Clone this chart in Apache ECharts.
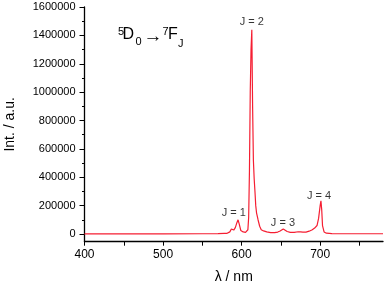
<!DOCTYPE html>
<html><head><meta charset="utf-8">
<script src="https://cdn.jsdelivr.net/npm/echarts@6/dist/echarts.min.js"></script>
<style>html,body{margin:0;padding:0;background:#fff}#c{width:385px;height:285px}</style>
</head><body><div id="c"></div>
<script>
const wavelength = [400,450,500,550,570,578,580,581,583,585,587,588,590,592,594,595.5,597,599,602,605,607,608,609,610,611,612,613,614,615,616,617,618,619,621,623,625,628,632,637,642,646,649,651,653,655,658,662,667,672,675,678,682,686,690,693,696,698,700,701,702,703,705,708,715,740,780];
const intensity  = [1000,1000,1500,2000,3000,4000,9000,4000,6000,15000,35000,22000,28000,45000,80000,100000,70000,25000,15000,12000,12000,30000,120000,450000,1000000,1300000,1440000,900000,520000,390000,300000,200000,150000,99000,55000,30000,22000,15000,10000,10000,14000,22000,32000,36000,30000,18000,12000,12000,16000,15000,13000,14000,20000,30000,42000,60000,110000,200000,234000,170000,60000,15000,6000,3000,2000,2000];
const xTicks = [400,450,500,550,600,650,700,750];
const xLabels = [400,500,600,700];
const yTicks = [0,200000,400000,600000,800000,1000000,1200000,1400000,1600000];
const yMinorTicks = [100000,300000,500000,700000,900000,1100000,1300000,1500000];
const peakLabels = ['J = 1','J = 2','J = 3','J = 4'];
const peakLabelX = [590, 613, 652.6, 698.6];
const peakLabelY = [148000, 1495000, 80000, 270000];

const FONT = 'Liberation Sans, Arial, sans-serif';
const chart = echarts.init(document.getElementById('c'), null, {renderer:'canvas'});
const lineData = wavelength.map((w,i)=>[w, intensity[i]]);
const labelData = peakLabels.map((t,i)=>[peakLabelX[i], peakLabelY[i], t]);
const axisCommon = {color:'#000', fontFamily:FONT};
chart.setOption({
  animation:false,
  backgroundColor:'#fff',
  grid:{left:84.5, right:2, top:7, bottom:43.3, containLabel:false, outerBoundsMode:'none'},
  xAxis:{type:'value', min:400, max:780,
    axisLine:{show:true, onZero:false, lineStyle:{color:'#000', width:1.3}},
    axisTick:{show:true, inside:false, length:4, customValues:xTicks, lineStyle:{color:'#000', width:1}},
    axisLabel:{show:true, customValues:xLabels, fontSize:12, margin:7, formatter:v=>String(v), ...axisCommon},
    splitLine:{show:false},
    name:'λ / nm', nameLocation:'middle', nameGap:28,
    nameTextStyle:{fontSize:14, ...axisCommon}
  },
  yAxis:[{type:'value', min:-54000, max:1600000,
    axisLine:{show:true, onZero:false, lineStyle:{color:'#000', width:1.3}},
    axisTick:{show:true, inside:false, length:5, customValues:yTicks, lineStyle:{color:'#000', width:1}},
    axisLabel:{show:true, customValues:yTicks, fontSize:11, margin:9, formatter:v=>String(v), ...axisCommon},
    splitLine:{show:false},
    name:'Int. / a.u.', nameLocation:'middle', nameGap:67,
    nameTextStyle:{fontSize:14, ...axisCommon}
  },{type:'value', min:-54000, max:1600000, position:'left',
    axisLine:{show:false},
    axisTick:{show:true, inside:false, length:2.5, customValues:yMinorTicks, lineStyle:{color:'#000', width:1}},
    axisLabel:{show:false},
    splitLine:{show:false}
  }],
  series:[{type:'line', data:lineData, showSymbol:false, symbol:'none',
    lineStyle:{color:'#f51e32', width:1.2}, clip:true, z:2},
    {type:'scatter', data:labelData, symbolSize:0, silent:true,
     label:{show:true, position:'inside', formatter:p=>p.data[2], fontSize:11, color:'#000', fontFamily:FONT}}
  ],
  graphic:[
    {type:'text', left:118, top:26, style:{text:'5', fontSize:11, fontFamily:FONT, fill:'#000'}},
    {type:'text', left:122.5, top:27, style:{text:'D', fontSize:16, fontFamily:FONT, fill:'#000'}},
    {type:'text', left:135.5, top:36.5, style:{text:'0', fontSize:11, fontFamily:FONT, fill:'#000'}},
    {type:'text', left:143.5, top:27.5, style:{text:'→', fontSize:19, fontFamily:FONT, fill:'#000'}},
    {type:'text', left:162.5, top:26, style:{text:'7', fontSize:11, fontFamily:FONT, fill:'#000'}},
    {type:'text', left:168, top:27, style:{text:'F', fontSize:16, fontFamily:FONT, fill:'#000'}},
    {type:'text', left:178, top:38, style:{text:'J', fontSize:11, fontFamily:FONT, fill:'#000'}}
  ]
});
</script></body></html>
